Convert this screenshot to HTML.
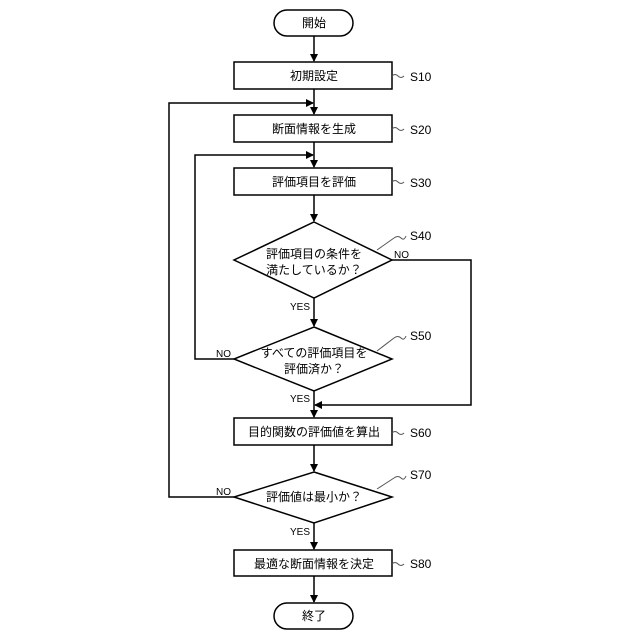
<!DOCTYPE html>
<html><head><meta charset="utf-8"><style>
html,body{margin:0;padding:0;background:#fff}
svg{display:block}
text{font-family:"Liberation Sans","Noto Sans CJK JP",sans-serif;fill:#000}
</style></head><body>
<svg width="640" height="640" viewBox="0 0 640 640" xmlns="http://www.w3.org/2000/svg">
<defs><marker id="a" markerWidth="8" markerHeight="8" refX="7" refY="4" orient="auto" markerUnits="userSpaceOnUse"><path d="M0,0 L8,4 L0,8 z" fill="#000"/></marker></defs>
<g stroke="#000" stroke-width="1.5" fill="#fff">
<rect x="274" y="10" width="79" height="26" rx="13"/>
<rect x="234" y="62" width="158" height="27"/>
<rect x="234" y="115" width="158" height="27"/>
<rect x="234" y="168" width="158" height="27"/>
<polygon points="314,222 392,260 314,298 234,260"/>
<polygon points="314,327 392,359 314,391 234,359"/>
<rect x="234" y="418" width="158" height="27"/>
<polygon points="314,472 392,497 314,523 234,497"/>
<rect x="234" y="550" width="158" height="26"/>
<rect x="274" y="603" width="79" height="26" rx="13"/>
</g>
<g stroke="#000" stroke-width="1.5" fill="none" marker-end="url(#a)">
<line x1="314" y1="36" x2="314" y2="61"/>
<line x1="314" y1="89" x2="314" y2="114"/>
<line x1="314" y1="142" x2="314" y2="167"/>
<line x1="314" y1="195" x2="314" y2="221"/>
<line x1="314" y1="298" x2="314" y2="326"/>
<line x1="314" y1="391" x2="314" y2="417"/>
<line x1="314" y1="445" x2="314" y2="471"/>
<line x1="314" y1="523" x2="314" y2="549"/>
<line x1="314" y1="576" x2="314" y2="602"/>
<polyline points="234,497 169,497 169,103 313,103"/>
<polyline points="234,359 195,359 195,155 313,155"/>
<polyline points="392,260 471,260 471,405 315,405"/>
</g>
<g stroke="#555" stroke-width="1" fill="none">
<path d="M392,76 q3,-3 6,0 t6,0"/>
<path d="M392,129 q3,-3 6,0 t6,0"/>
<path d="M392,182 q3,-3 6,0 t6,0"/>
<path d="M392,433 q3,-3 6,0 t6,0"/>
<path d="M392,564 q3,-3 6,0 t6,0"/>
<path d="M377,250 L394,238 q4,-3 7,0 t5,-2"/>
<path d="M377,351 L394,338 q4,-3 7,0 t5,-2"/>
<path d="M377,489 L394,478 q4,-3 7,0 t5,-2"/>
</g>
<g font-size="12" text-anchor="middle">
<text x="314" y="27">開始</text>
<text x="314" y="80">初期設定</text>
<text x="314" y="133">断面情報を生成</text>
<text x="314" y="186">評価項目を評価</text>
<text x="314" y="258">評価項目の条件を</text>
<text x="314" y="274">満たしているか？</text>
<text x="314" y="357">すべての評価項目を</text>
<text x="314" y="373">評価済か？</text>
<text x="314" y="436">目的関数の評価値を算出</text>
<text x="314" y="501">評価値は最小か？</text>
<text x="314" y="568">最適な断面情報を決定</text>
<text x="314" y="620">終了</text>
</g>
<g font-size="12">
<text x="410" y="81">S10</text>
<text x="410" y="134">S20</text>
<text x="410" y="187">S30</text>
<text x="410" y="240">S40</text>
<text x="410" y="340">S50</text>
<text x="410" y="437">S60</text>
<text x="410" y="479">S70</text>
<text x="410" y="568">S80</text>
</g>
<g font-size="10">
<text x="394" y="258">NO</text>
<text x="216" y="357">NO</text>
<text x="216" y="495">NO</text>
<text x="290" y="310">YES</text>
<text x="290" y="402">YES</text>
<text x="290" y="535">YES</text>
</g>
</svg>
</body></html>
